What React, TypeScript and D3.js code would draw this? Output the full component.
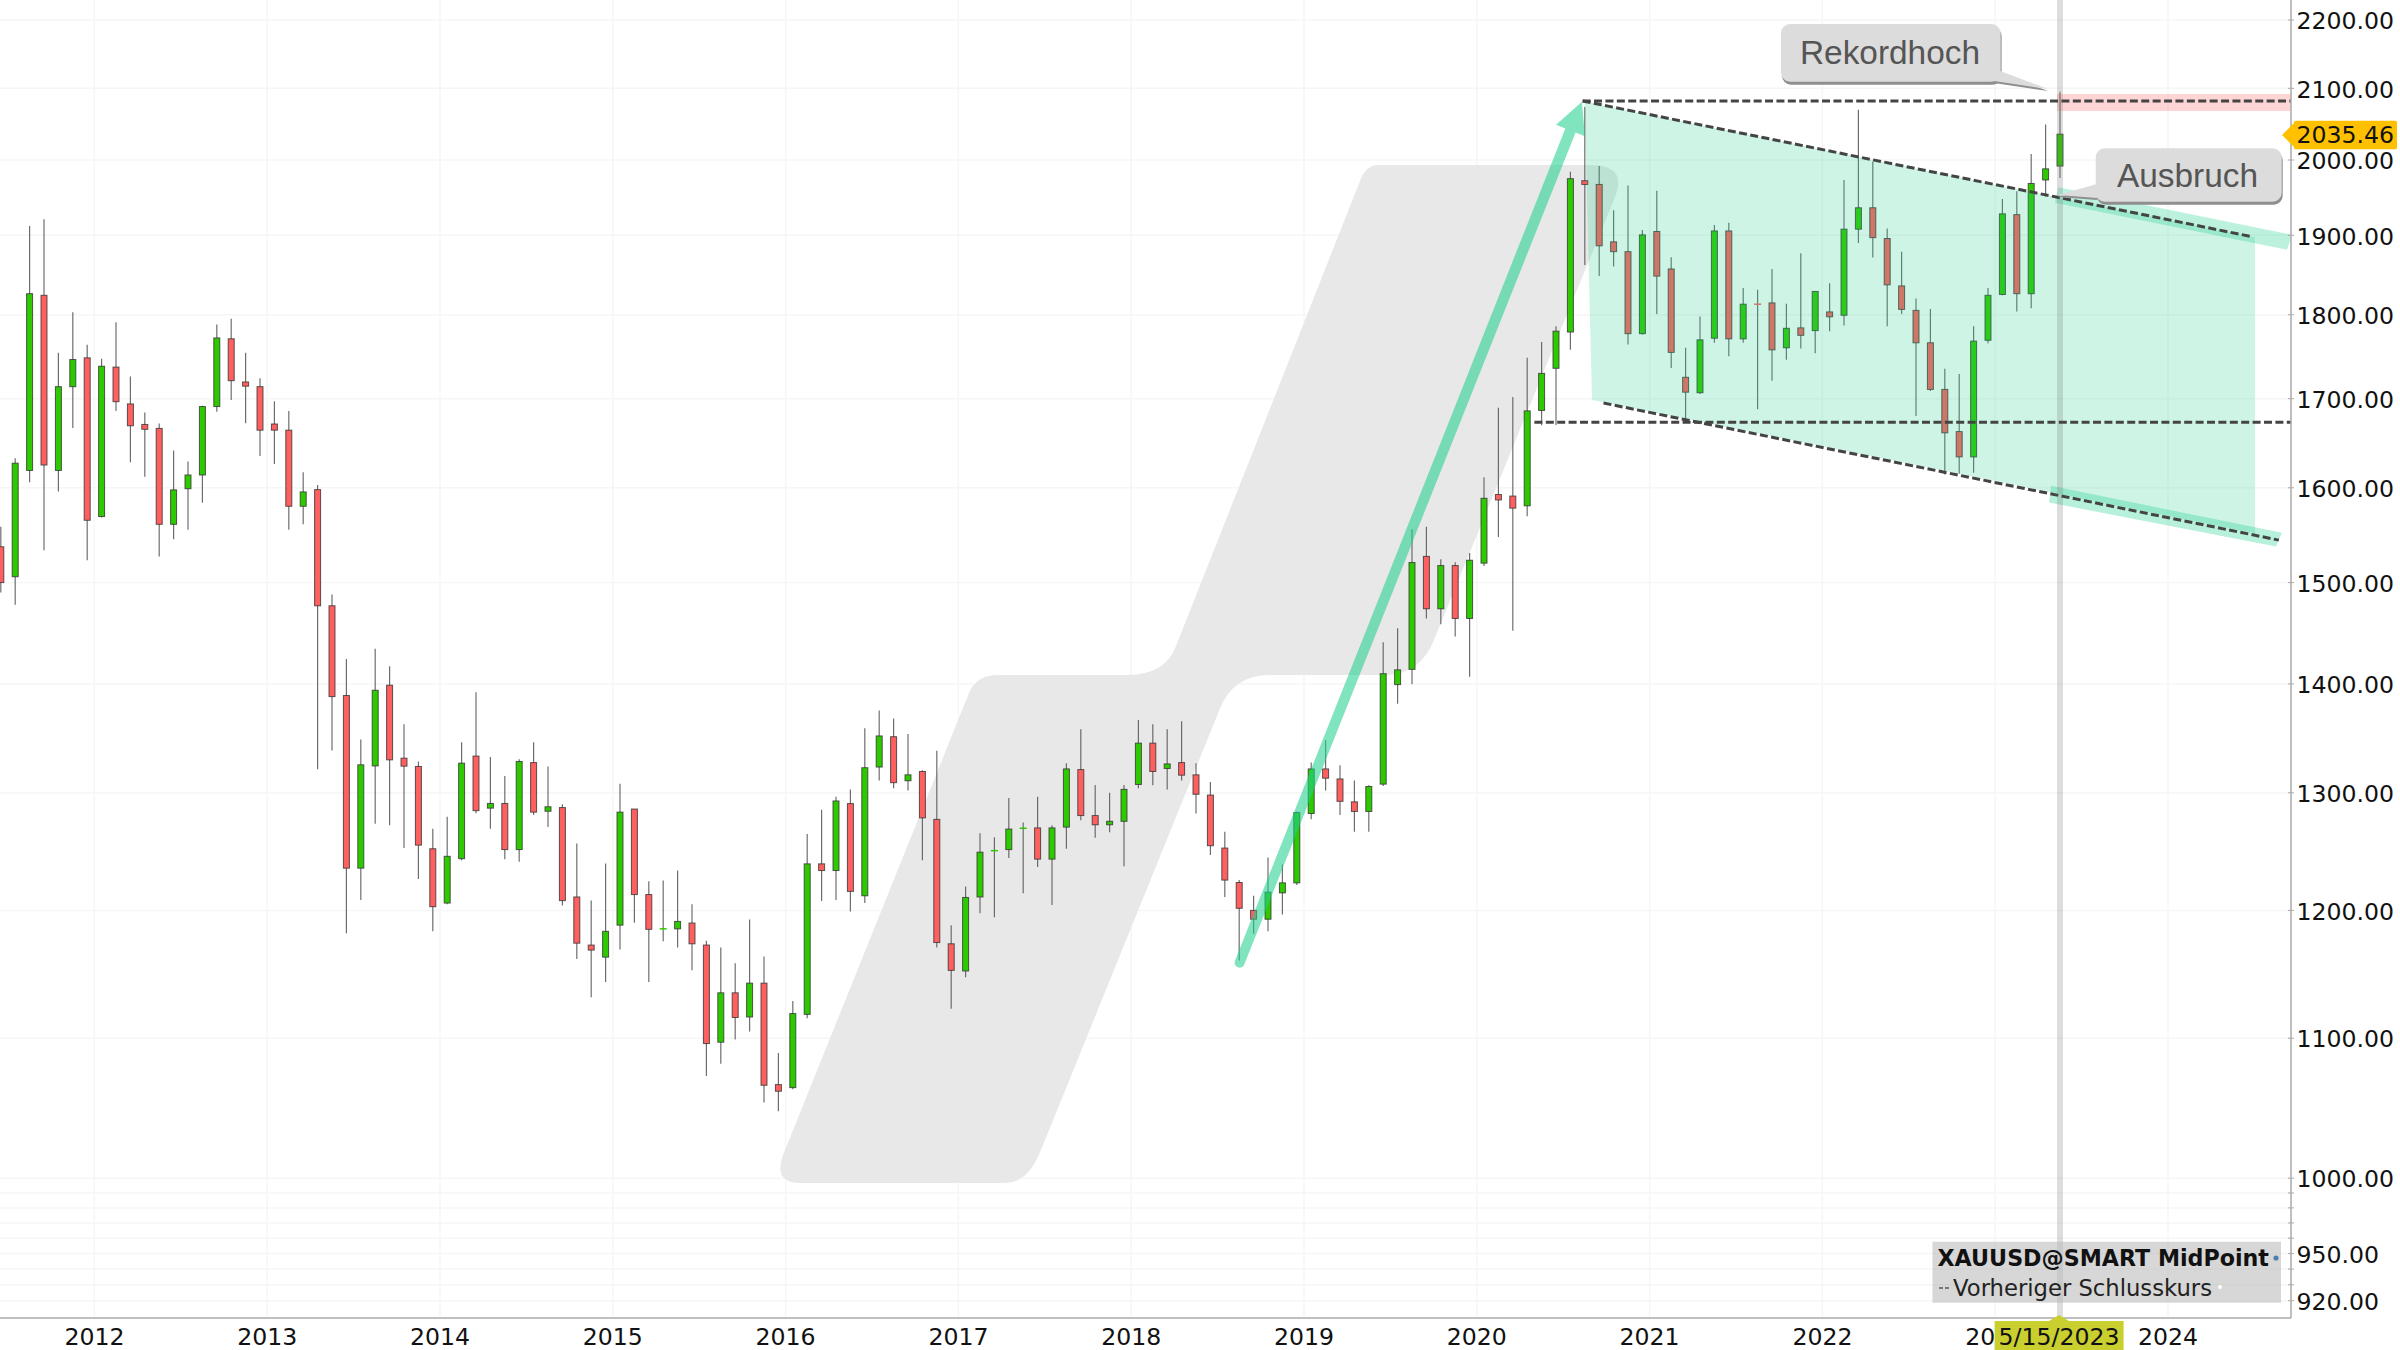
import React from "react";
import * as d3 from "d3";

// Monthly candles, June 2011 to May 2023
const opens = [1537,1506,1619,1824,1619,1714,1748,1569,1737,1694,
1670.5,1666,1560.7,1599,1614,1691,1770.8,1719.5,1714,1671,
1664,1580,1598,1476.5,1389,1235,1324,1398.8,1331,1323.5,
1251.4,1206,1243,1332.9,1286.5,1290.6,1250.7,1327,1283.8,1287,
1211,1172,1162.4,1188,1285.7,1213,1184.6,1185,1189.7,1172,
1097,1134.5,1116,1142,1065.8,1063.6,1118,1238.6,1233,1290.5,
1212,1323,1350.6,1310.7,1319,1276.7,1173,1151.5,1211,1249.4,
1250.7,1268.6,1269.3,1242.6,1270,1320.7,1280,1272,1275,1307.4,
1344.7,1321.7,1327,1316,1298,1252,1223,1200,1192.8,1214.4,
1222.7,1281.8,1321.3,1312.3,1292,1283.6,1307.7,1399.4,1414,1527,
1473.5,1517.5,1463.8,1520,1592.7,1591,1580.5,1686.5,1735.6,1779,
1972,1967,1891.6,1879,1777,1905,1857,1725,1707,1771.5,
1905.7,1770.7,1813,1814.6,1760,1784,1780.7,1803.5,1799.4,1908,
1936,1895.9,1835.7,1805.4,1766,1710.8,1662.4,1634,1769,1825,
1927,1826,1973,1991.8];
const highs = [1558,1632.5,1912,1921,1754,1803,1763.5,1747,1791,1726,
1684,1671.6,1641,1629,1691.8,1788,1795,1754,1724,1697,
1686,1617,1603,1488,1424,1348,1434,1417,1362,1328,
1268.6,1279,1345.6,1392,1332,1315,1330,1345.6,1323.4,1290,
1256,1208,1239,1308,1285.7,1224,1224.7,1233,1205,1175.5,
1170,1157.6,1192.6,1163,1089,1128.3,1264,1285,1296.4,1303,
1358.4,1375,1367.5,1353,1320,1337.7,1188,1219.7,1264.7,1261.3,
1295.5,1274,1296.4,1271.6,1326.5,1357.5,1307,1300,1307,1366,
1362,1357.5,1365,1326.5,1309.5,1266,1225,1212,1244,1238,
1283.6,1327,1347.4,1324.7,1310.9,1306.7,1440.4,1454,1555.5,1558,
1524,1521,1530.4,1611.5,1689.5,1702,1748,1767,1786,1984,
2073.4,1991.8,1932.6,1965.5,1907,1958.6,1872,1760,1798,1913.4,
1916.5,1833,1831,1857,1813.4,1877,1828.8,1839,1973,2069.7,
1998,1909,1879,1820,1807,1735.2,1729,1786,1833,1947.7,
1958,2008.2,2049,2095];
const lows = [1490,1477.5,1606,1533.5,1596,1666.5,1523,1568,1686,1628,
1612,1527,1545,1555,1583.7,1685,1698.5,1672,1635,1626,
1555,1560.7,1321,1338,1181.5,1208.5,1273,1271.6,1252,1226,
1183,1205,1241.7,1282,1268.6,1242.6,1240.4,1280.4,1270,1204,
1161,1131,1142.8,1168.4,1190,1142.8,1175,1170,1152,1072,
1081,1099,1105,1052.8,1046.6,1062.4,1115,1207.7,1208.5,1199,
1206,1311,1304,1302,1241.7,1170,1122.3,1146.5,1197.7,1194.4,
1243.6,1214,1236,1204.5,1251.4,1276,1260.8,1265.6,1236.6,1304,
1306.8,1302.9,1311,1281.8,1246,1211,1159.7,1181,1183,1196.6,
1221,1276.7,1302,1280.4,1266,1266,1306,1381.3,1399.8,1463.8,
1458,1446,1406.8,1517,1547.4,1451.6,1569.3,1669.7,1670,1757.5,
1862,1848,1860,1764,1776,1801,1736,1676,1705.4,1766,
1750,1766,1688,1721,1745.6,1759,1753.6,1780,1787,1890,
1871.6,1786,1801,1680,1709,1614.6,1615.4,1616.5,1765.5,1824,
1804,1808,1951,1975.5];
const closes = [1500,1627,1826,1625,1714,1746,1565,1738,1696.6,1669,
1665,1560.7,1597.7,1614,1691,1771.8,1721,1714.6,1664,1664,
1580,1595.5,1476.5,1388,1235,1325,1394,1329.5,1323.8,1254.5,
1203,1245,1326.5,1284.3,1290.6,1250.7,1328,1283,1287.7,1208,
1173.5,1168,1183,1283,1213,1184.6,1185,1191,1173,1096,
1134.5,1115.6,1142,1065.3,1061,1118.6,1238.6,1233,1292.8,1215.6,
1322.4,1351.3,1309,1316,1278,1174,1152,1210.6,1248.5,1249.8,
1268.3,1269,1242.6,1269.3,1321.3,1280,1272,1275,1303,1344.7,
1319,1325.8,1315.7,1298.7,1254,1225,1201.7,1192.8,1215,1222.7,
1282.6,1321.3,1313,1292.5,1283.6,1305.6,1409.8,1413.5,1520.6,1473.5,
1517.5,1463.8,1523,1588.6,1586.8,1578,1686,1729.6,1780,1974.7,
1967,1886.5,1879,1777,1900.6,1848,1754.5,1707.6,1769.5,1905.7,
1770.7,1813,1812.8,1757.5,1783.5,1775,1828.8,1797.5,1908,1936,
1897,1837,1806.6,1766,1710.8,1661,1634,1768,1824,1928,
1826,1968.3,1988,2035.46];

const years = [2012,2013,2014,2015,2016,2017,2018,2019,2020,2021,2022,2023,2024];
const priceLabels = [2200,2100,2000,1900,1800,1700,1600,1500,1400,1300,1200,1100,1000,950,920];
const minorGrid = [990,980,970,960,940,930];
const lastPrice = 2035.46;
const cursorDate = "5/15/2023";
const recordHigh = 2082;
const supportLevel = 1673;
const upperChannel: [number, number][] = [[109.85,2082],[156.4,1898]];
const lowerChannel: [number, number][] = [[111.3,1695],[158.2,1544]];
const arrowPath: [number, number][] = [[86.03,1158],[109.8,2081]];

const W = 2400, H = 1350;
const AXIS_X = 2291, AXIS_Y = 1318;
const FONT = "'DejaVu Sans', Verdana, sans-serif";
const ARIAL = "'Liberation Sans', Arial, sans-serif";
const MINT = "rgb(32,207,142)";

const x = d3.scaleLinear().domain([0, 143]).range([0.8, 2060]);
const y = d3.scaleLog().domain([2000, 1000]).range([160, 1178.2]);
const yearX = (yr: number) => x(7 + 12 * (yr - 2012) - 0.5);

function Callout({ bx, by, bw, bh, pointer, label, tx, ty }: any) {
  const box = d3.path();
  const r = 9;
  box.moveTo(bx + r, by);
  box.arcTo(bx + bw, by, bx + bw, by + bh, r);
  box.arcTo(bx + bw, by + bh, bx, by + bh, r);
  box.arcTo(bx, by + bh, bx, by, r);
  box.arcTo(bx, by, bx + bw, by, r);
  box.closePath();
  const tri = pointer.map((p: number[]) => p.join(",")).join(" ");
  return (
    <g>
      <path d={box.toString()} fill="#8f8f8f" transform="translate(1,3)" />
      <polygon points={tri} fill="#8f8f8f" transform="translate(0,2)" />
      <polygon points={tri} fill="#dcdcdc" />
      <path d={box.toString()} fill="#dcdcdc" />
      <text x={tx} y={ty + 33.4 * 0.36} fontFamily={ARIAL} fontSize={33.4} fill="#555" textAnchor="middle">{label}</text>
    </g>
  );
}

export default function App() {
  const ax0 = x(arrowPath[0][0]), ay0 = y(arrowPath[0][1]);
  const ax1 = x(arrowPath[1][0]), ay1 = y(arrowPath[1][1]);
  const ang = Math.atan2(ay1 - ay0, ax1 - ax0);
  const ux = Math.cos(ang), uy = Math.sin(ang);
  const nx = -uy, ny = ux;
  const at = (d: number, s: number) => `${ax1 - ux * d + nx * s},${ay1 - uy * d + ny * s}`;
  const len = Math.hypot(ax1 - ax0, ay1 - ay0);
  const arrow =
    `M${at(len, -5)} L${at(31, -5.5)} L${at(31, -15.5)} L${at(0, 0)} L${at(31, 15.5)} L${at(31, 5.5)} L${at(len, 5)} ` +
    `A5,5 0 0 1 ${at(len, -5)} Z`;

  const slopeU = (y(upperChannel[1][1]) - y(upperChannel[0][1])) / (x(upperChannel[1][0]) - x(upperChannel[0][0]));
  const slopeL = (y(lowerChannel[1][1]) - y(lowerChannel[0][1])) / (x(lowerChannel[1][0]) - x(lowerChannel[0][0]));
  const upAt = (px: number) => y(upperChannel[0][1]) + slopeU * (px - x(upperChannel[0][0]));
  const loAt = (px: number) => y(lowerChannel[0][1]) + slopeL * (px - x(lowerChannel[0][0]));
  const fillRight = 2255;
  const channelFill = [
    [x(upperChannel[0][0]) + 2, upAt(x(upperChannel[0][0]) + 2)],
    [fillRight, upAt(fillRight)],
    [fillRight, loAt(fillRight) - 2],
    [1592, 400],
  ].map((p) => p.join(",")).join(" ");
  const upperBand = [[2058, upAt(2058) - 10], [2292, upAt(2292) - 10], [2287, upAt(2287) + 6], [2055, upAt(2055) + 6]]
    .map((p) => p.join(",")).join(" ");
  const lowerBand = [[2051, loAt(2051) - 8], [2282, loAt(2282) - 8], [2276, loAt(2276) + 7], [2049, loAt(2049) + 9]]
    .map((p) => p.join(",")).join(" ");

  const watermark =
    "M1378 165 L1590 165 Q1628 165 1615 197 L1434 640 Q1420 675 1385 675 L1270 675 Q1232 675 1219 711 " +
    "L1041 1150 Q1028 1183 1005 1183 L800 1183 Q773 1183 783 1155 L969 693 Q976 675 998 675 L1127 675 " +
    "Q1165 675 1176 646 L1360 181 Q1366 165 1378 165 Z";

  const dash = { stroke: "#444", strokeWidth: 3, strokeDasharray: "8 3.4", fill: "none" };

  return (
    <svg width={W} height={H} viewBox={`0 0 ${W} ${H}`} style={{ position: "absolute", left: 0, top: 0, background: "#fff" }}>
      <rect width={W} height={H} fill="#fff" />
      {/* grid */}
      <g stroke="#f6f6f6" strokeWidth={1.5}>
        {years.map((yr) => <line key={yr} x1={yearX(yr)} x2={yearX(yr)} y1={0} y2={AXIS_Y} />)}
        {priceLabels.concat(minorGrid).map((p) => <line key={p} x1={0} x2={AXIS_X} y1={y(p)} y2={y(p)} />)}
      </g>
      <path d={watermark} fill="#e8e8e8" />
      {/* candles */}
      <g>
        {opens.map((o, i) => {
          const c = closes[i];
          const up = c >= o;
          const top = y(Math.max(o, c));
          const bot = y(Math.min(o, c));
          const cx = x(i);
          const doji = bot - top < 1;
          const color = up ? "#2dca00" : "#ff5f5f";
          return (
            <g key={i}>
              <line x1={cx} x2={cx} y1={y(highs[i])} y2={y(lows[i])} stroke="#555" strokeWidth={1.2} strokeOpacity={0.85} />
              {doji ? (
                <line x1={cx - 3.5} x2={cx + 3.5} y1={top} y2={top} stroke={color} strokeWidth={1.5} />
              ) : (
                <rect x={cx - 3} y={top} width={6} height={bot - top} fill={color} stroke="#333" strokeOpacity={0.8} strokeWidth={1} />
              )}
            </g>
          );
        })}
      </g>
      {/* overlays */}
      <rect x={2057} y={94} width={AXIS_X - 2057} height={17} fill="#fb2c2c" fillOpacity={0.2} />
      <polygon points={channelFill} fill={MINT} fillOpacity={0.22} />
      <polygon points={upperBand} fill={MINT} fillOpacity={0.3} />
      <polygon points={lowerBand} fill={MINT} fillOpacity={0.32} />
      <path d={arrow} fill={MINT} fillOpacity={0.57} />
      <rect x={2057} y={0} width={6} height={AXIS_Y} fill="#777" fillOpacity={0.25} />
      <line x1={x(upperChannel[0][0])} x2={AXIS_X} y1={y(recordHigh)} y2={y(recordHigh)} {...dash} />
      <line x1={x(106.5)} x2={AXIS_X} y1={y(supportLevel)} y2={y(supportLevel)} {...dash} />
      <line x1={x(upperChannel[0][0])} x2={x(upperChannel[1][0])} y1={y(upperChannel[0][1])} y2={y(upperChannel[1][1])} {...dash} />
      <line x1={x(lowerChannel[0][0])} x2={x(lowerChannel[1][0])} y1={y(lowerChannel[0][1])} y2={y(lowerChannel[1][1])} {...dash} />

      <Callout bx={1781} by={24} bw={219.6} bh={57.7} label="Rekordhoch" tx={1890} ty={52}
        pointer={[[1994, 81], [2000, 71], [2048, 89]]} />
      <Callout bx={2095.7} by={148.3} bw={186} bh={53.4} label="Ausbruch" tx={2187.5} ty={175}
        pointer={[[2097, 184], [2058, 195], [2097, 198]]} />

      {/* axes */}
      <line x1={0} x2={AXIS_X} y1={AXIS_Y} y2={AXIS_Y} stroke="#aaa" strokeWidth={1.5} />
      <line x1={AXIS_X} x2={AXIS_X} y1={0} y2={AXIS_Y} stroke="#aaa" strokeWidth={1.5} />
      <g fontFamily={FONT} fontSize={23.6} fill="#111">
        {years.map((yr) => (
          <text key={yr} x={yearX(yr)} y={1336 + 8.7} textAnchor="middle">{yr}</text>
        ))}
        {priceLabels.map((p) => (
          <text key={p} x={2296.5} y={y(p) + 9.2}>{p.toFixed(2)}</text>
        ))}
      </g>
      <g stroke="#aaa" strokeWidth={1}>
        {priceLabels.concat(minorGrid).map((p) => <line key={p} x1={AXIS_X - 3} x2={AXIS_X + 3} y1={y(p)} y2={y(p)} />)}
      </g>

      {/* legend */}
      <rect x={1932.5} y={1241.7} width={348.5} height={61} fill="#bdbdbd" fillOpacity={0.6} />
      <text x={1937.5} y={1266} fontFamily={FONT} fontWeight="bold" fontSize={22.2} fill="#111">XAUUSD@SMART MidPoint</text>
      <circle cx={2276} cy={1258} r={2.6} fill="#4a7fb0" />
      <line x1={1939} x2={1951} y1={1288} y2={1288} stroke="#555" strokeWidth={1.4} strokeDasharray="4 2" />
      <text x={1953} y={1296} fontFamily={FONT} fontSize={22.7} fill="#222">Vorheriger Schlusskurs</text>
      <circle cx={2220} cy={1287} r={2} fill="#fff" />

      {/* last price tag */}
      <polygon points={`2282,135 2295,122 2295,148`} fill="#ffc000" />
      <rect x={2294} y={120.7} width={103} height={28.6} fill="#ffc000" rx={1.5} />
      <text x={2296.5} y={y(lastPrice) + 9} fontFamily={FONT} fontSize={23.6} fill="#111">{lastPrice.toFixed(2)}</text>

      {/* cursor date tag */}
      <polygon points={`2059,1315 2049,1321 2069,1321`} fill="#c9cf2f" />
      <rect x={1994.6} y={1321} width={129} height={29} fill="#c9cf2f" />
      <text x={2059} y={1344.7} fontFamily={FONT} fontSize={23.6} fill="#111" textAnchor="middle">{cursorDate}</text>
    </svg>
  );
}
